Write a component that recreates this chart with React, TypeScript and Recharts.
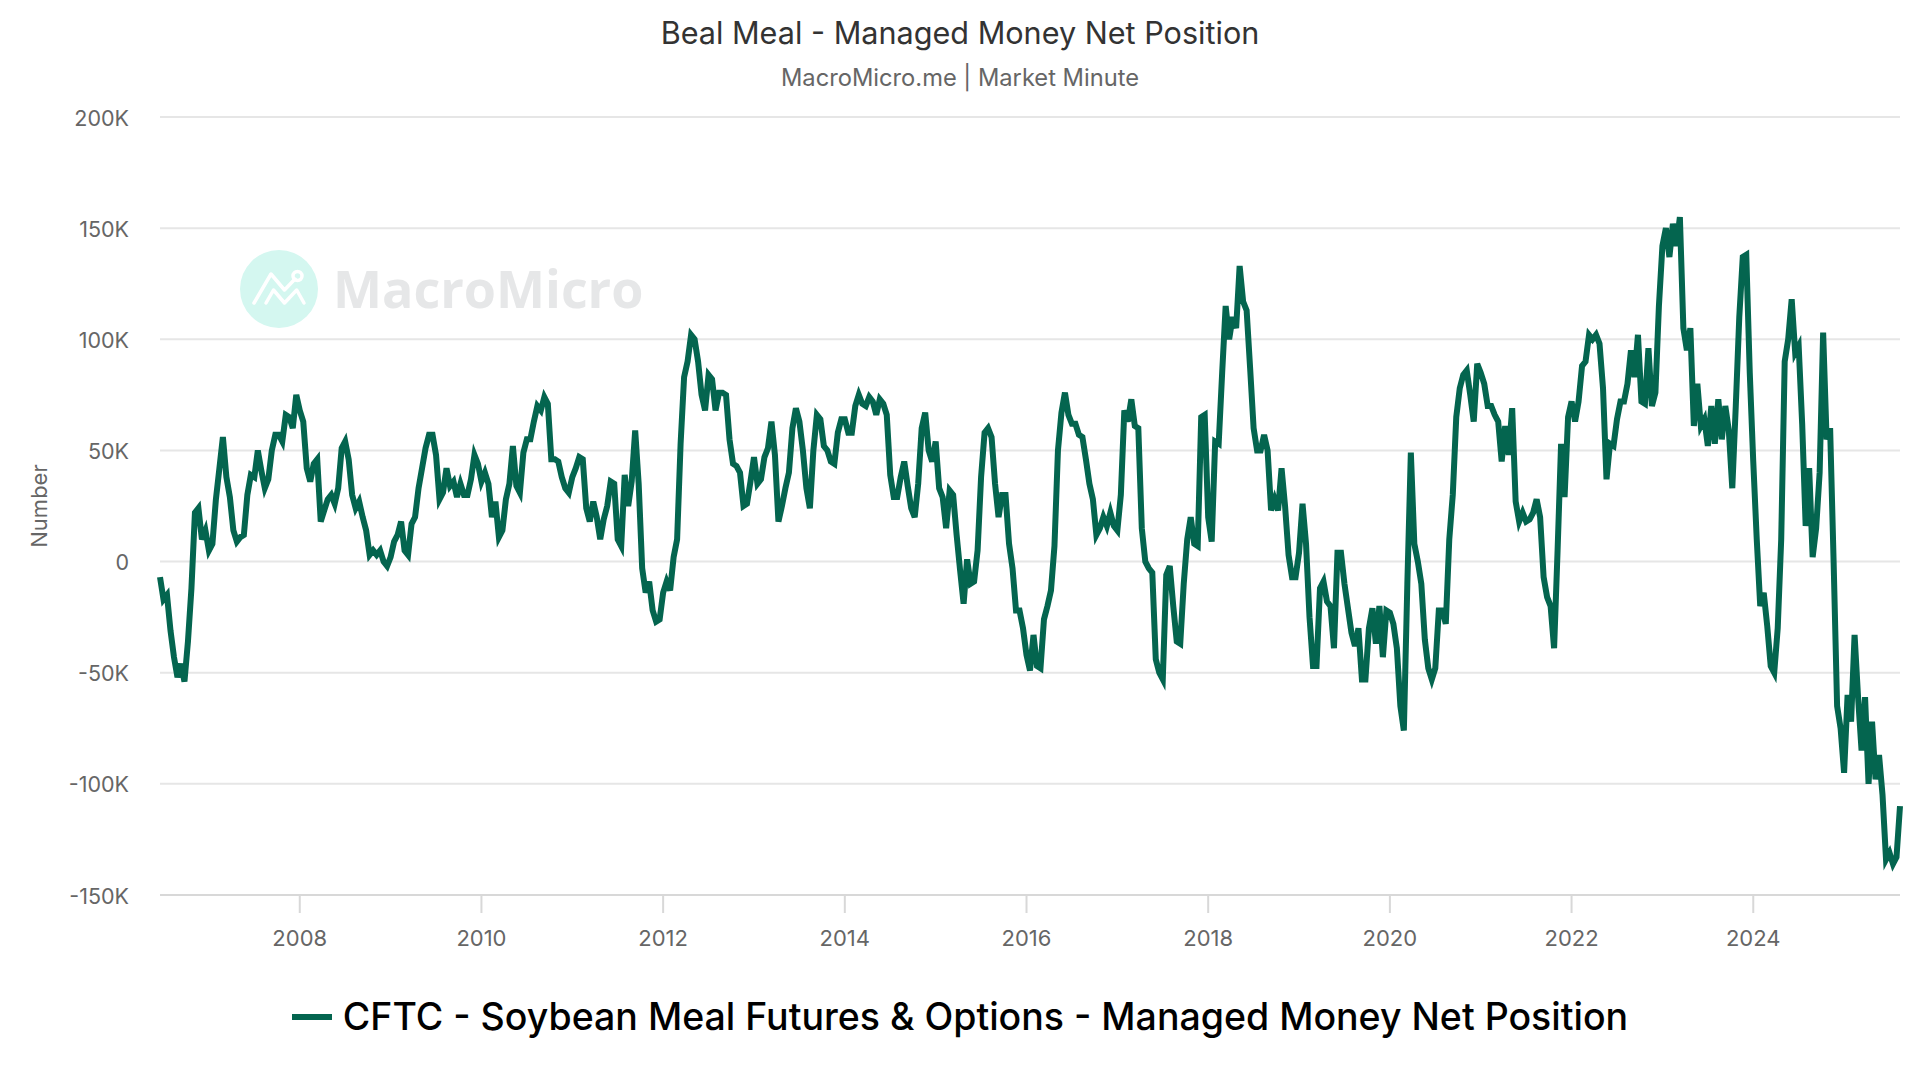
import React from 'react';
import { LineChart, Line, XAxis, YAxis, CartesianGrid } from 'recharts';

const FONT = 'Inter, "Noto Sans", sans-serif';
const TITLE = 'Beal Meal - Managed Money Net Position';
const SUBTITLE = 'MacroMicro.me | Market Minute';
const SERIES_NAME = 'CFTC - Soybean Meal Futures & Options - Managed Money Net Position';
const LINE_COLOR = '#04654f';
const yTicks = [-150, -100, -50, 0, 50, 100, 150, 200];
const xTicks = [2008, 2010, 2012, 2014, 2016, 2018, 2020, 2022, 2024];

// Net position in thousands, read every two weeks (26 samples a year).
const v2006 = [-7, -17, -15, -31, -43, -52, -46, -54, -36, -12, 22, 24, 10, 14];
const v2007 = [5, 8, 28, 42, 56, 38, 29, 14, 9, 11, 12, 30, 39, 38, 50, 41, 33, 37, 50, 57, 57, 54, 66, 65, 60, 75];
const v2008 = [68, 63, 42, 36, 44, 46, 18, 23, 28, 30, 26, 33, 51, 54, 46, 30, 24, 27, 20, 14, 3, 5, 3, 5, 0, -2];
const v2009 = [2, 9, 12, 18, 5, 3, 17, 20, 33, 42, 51, 57, 57, 48, 28, 31, 42, 34, 36, 29, 35, 30, 30, 37, 48, 44];
const v2010 = [36, 40, 35, 20, 27, 11, 14, 28, 35, 52, 34, 31, 49, 55, 55, 63, 70, 68, 74, 71, 46, 46, 45, 38, 33, 31];
const v2011 = [38, 42, 47, 46, 24, 18, 27, 20, 10, 19, 25, 36, 35, 10, 7, 39, 25, 36, 59, 35, -3, -14, -9, -22, -27, -26];
const v2012 = [-14, -9, -13, 2, 10, 53, 83, 90, 102, 100, 90, 75, 68, 84, 82, 68, 76, 76, 75, 55, 44, 43, 40, 25, 26, 36];
const v2013 = [47, 35, 37, 47, 51, 63, 48, 18, 25, 33, 40, 60, 69, 63, 50, 33, 24, 50, 66, 64, 52, 50, 45, 44, 58, 64];
const v2014 = [64, 58, 58, 70, 75, 71, 70, 74, 72, 66, 73, 71, 66, 39, 29, 29, 38, 45, 34, 24, 20, 35, 60, 67, 50, 45];
const v2015 = [54, 33, 29, 15, 32, 30, 12, -4, -19, 1, -10, -9, 5, 38, 58, 60, 56, 35, 20, 30, 30, 8, -3, -22, -22, -30];
const v2016 = [-42, -49, -33, -47, -48, -26, -20, -13, 7, 50, 67, 76, 66, 62, 62, 57, 56, 46, 35, 28, 12, 15, 20, 16, 22, 16];
const v2017 = [14, 30, 68, 63, 73, 61, 60, 15, 0, -3, -5, -44, -50, -53, -6, -2, -20, -36, -37, -10, 10, 20, 8, 7, 65, 66];
const v2018 = [20, 9, 54, 53, 85, 115, 100, 110, 105, 133, 117, 113, 87, 60, 50, 50, 57, 50, 23, 28, 23, 42, 25, 3, -7, -7];
const v2019 = [4, 26, 8, -25, -47, -47, -12, -9, -18, -20, -39, 4, 4, -10, -21, -32, -38, -30, -53, -53, -30, -21, -37, -20, -43, -22];
const v2020 = [-23, -28, -39, -65, -76, -10, 49, 8, 0, -10, -35, -48, -53, -48, -22, -22, -28, 10, 30, 65, 78, 84, 86, 75, 63, 89];
const v2021 = [85, 80, 70, 70, 66, 63, 45, 61, 48, 69, 27, 18, 22, 18, 19, 22, 28, 20, -7, -16, -20, -39, 5, 53, 29, 65];
const v2022 = [72, 63, 72, 88, 90, 102, 100, 102, 98, 78, 37, 53, 52, 64, 72, 72, 80, 95, 83, 102, 72, 71, 96, 70, 76, 115];
const v2023 = [142, 150, 137, 152, 142, 155, 105, 95, 105, 61, 80, 61, 64, 52, 70, 53, 73, 55, 70, 59, 33, 70, 110, 137, 138, 85];
const v2024 = [45, 10, -20, -14, -29, -47, -50, -30, 10, 90, 100, 118, 94, 97, 62, 16, 42, 2, 15, 40, 103, 55, 60, 0, -65, -75];
const v2025 = [-95, -60, -72, -33, -61, -85, -61, -100, -72, -98, -87, -105, -134, -131, -136, -133, -110];

const years: [number, number[], number][] = [
  [2006, v2006, 12], [2007, v2007, 0], [2008, v2008, 0], [2009, v2009, 0], [2010, v2010, 0],
  [2011, v2011, 0], [2012, v2012, 0], [2013, v2013, 0], [2014, v2014, 0], [2015, v2015, 0],
  [2016, v2016, 0], [2017, v2017, 0], [2018, v2018, 0], [2019, v2019, 0], [2020, v2020, 0],
  [2021, v2021, 0], [2022, v2022, 0], [2023, v2023, 0], [2024, v2024, 0], [2025, v2025, 0],
];
const rows = years.flatMap(([y, vals, off]) => vals.map((v, i) => ({ t: y + (i + off) / 26, v })));
const X_DOMAIN = [2006 + 12 / 26, 2025 + 16 / 26];

export default function App() {
  return (
    <div style={{ position: 'absolute', left: 0, top: 0, width: 1920, height: 1080, background: '#fff', overflow: 'hidden', fontFamily: FONT }}>
      <svg width={1920} height={1080} style={{ position: 'absolute', left: 0, top: 0 }}>
        <circle cx={279} cy={289} r={39} fill="#d4f7f0" />
        <g fill="none" stroke="#fff" strokeWidth={3.5} strokeLinecap="round" strokeLinejoin="round">
          <polyline points="254,303 271,274 284.5,290 295,279" />
          <circle cx={297.5} cy={276} r={4.5} />
          <polyline points="266,303 273.5,290 284.5,303 296.7,290 304,303" />
        </g>
        <text x={333} y={308} fontFamily='"Open Sans", sans-serif' fontWeight={700} fontSize={52} fill="#e6e7e8">MacroMicro</text>
      </svg>
      <div style={{ position: 'absolute', left: 0, width: 1920, top: 14, textAlign: 'center', fontSize: 30.6, lineHeight: '38px', color: '#333' }}>{TITLE}</div>
      <div style={{ position: 'absolute', left: 0, width: 1920, top: 64, textAlign: 'center', fontSize: 23.7, lineHeight: '28px', color: '#666' }}>{SUBTITLE}</div>
      <div style={{ position: 'absolute', left: 0, top: 0 }}>
        <LineChart width={1920} height={1080} data={rows} margin={{ top: 117, right: 20, bottom: 0, left: 0 }}>
          <CartesianGrid horizontal vertical={false} stroke="#e6e6e6" strokeWidth={2} />
          <XAxis
            type="number"
            dataKey="t"
            domain={X_DOMAIN}
            ticks={xTicks}
            height={185}
            stroke="#d8d8d8"
            strokeWidth={2}
            tickSize={18}
            tickMargin={17}
            tick={{ fill: '#666', fontSize: 22, fontFamily: FONT }}
            tickFormatter={(t: number) => String(t)}
          />
          <YAxis
            type="number"
            domain={[-150, 200]}
            ticks={yTicks}
            width={160}
            axisLine={false}
            tickLine={false}
            tickMargin={25}
            tick={{ fill: '#666', fontSize: 21.5, fontFamily: FONT, dy: 1 }}
            tickFormatter={(v: number) => (v === 0 ? '0' : v + 'K')}
            label={{ value: 'Number', angle: -90, position: 'insideLeft', offset: 39, style: { fill: '#666', fontSize: 22, fontFamily: FONT, textAnchor: 'middle' } }}
          />
          <Line type="linear" dataKey="v" name={SERIES_NAME} stroke={LINE_COLOR} strokeWidth={6} dot={false} isAnimationActive={false} />
        </LineChart>
      </div>
      <div style={{ position: 'absolute', left: 0, width: 1920, top: 994, display: 'flex', alignItems: 'center', justifyContent: 'center', fontSize: 37.5, lineHeight: '46px', fontWeight: 500, color: '#000', whiteSpace: 'nowrap' }}>
        <span style={{ display: 'inline-block', width: 40, height: 6, background: LINE_COLOR, marginRight: 11 }} />
        {SERIES_NAME}
      </div>
    </div>
  );
}
